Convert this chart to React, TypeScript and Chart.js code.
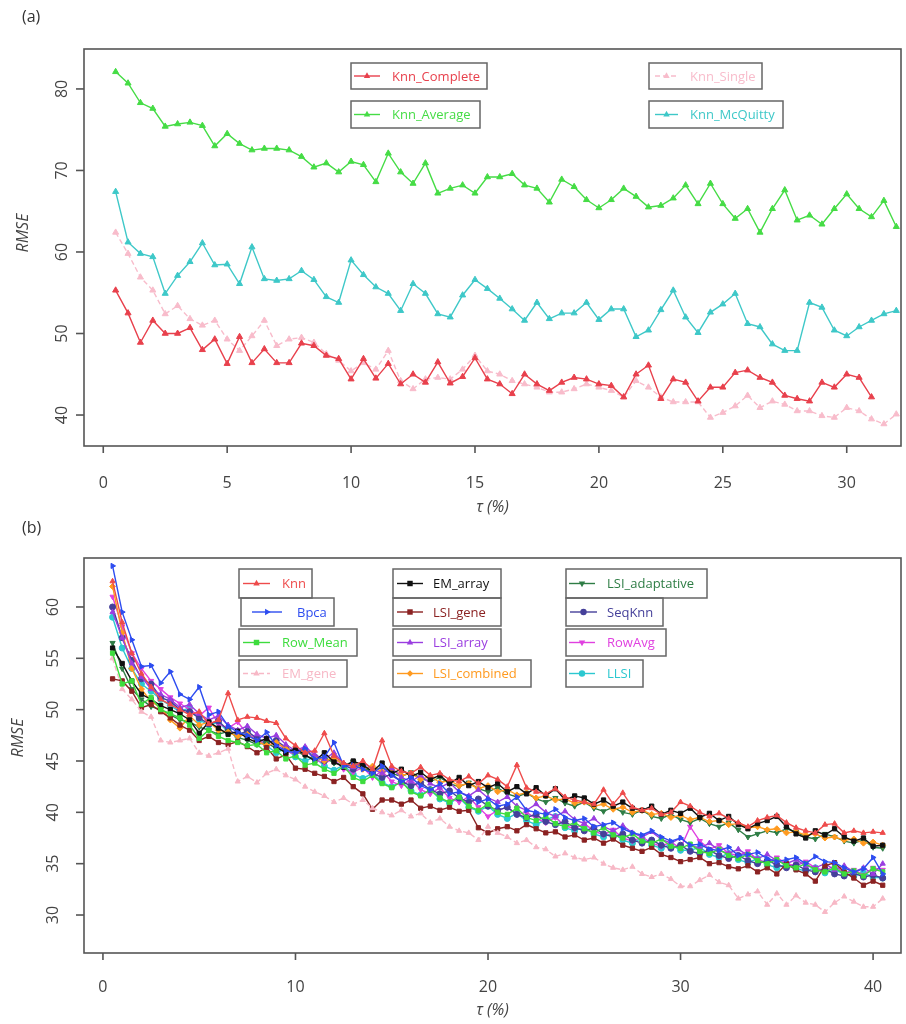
import React, { useEffect, useRef } from 'react';
import { Chart, registerables } from 'chart.js';
Chart.register(...registerables);

// ---------- Panel (a) data ----------
const tauA = [0.5, 1, 1.5, 2, 2.5, 3, 3.5, 4, 4.5, 5, 5.5, 6, 6.5, 7, 7.5, 8, 8.5, 9, 9.5, 10,
  10.5, 11, 11.5, 12, 12.5, 13, 13.5, 14, 14.5, 15, 15.5, 16, 16.5, 17, 17.5, 18, 18.5, 19, 19.5, 20,
  20.5, 21, 21.5, 22, 22.5, 23, 23.5, 24, 24.5, 25, 25.5, 26, 26.5, 27, 27.5, 28, 28.5, 29, 29.5, 30,
  30.5, 31, 31.5, 32];
const xTicksA = [0, 5, 10, 15, 20, 25, 30];
const yTicksA = [40, 50, 60, 70, 80];

const knnComplete = [55.3, 52.5, 48.9, 51.6, 50.0, 50.0, 50.7, 48.0, 49.3, 46.3,
  49.6, 46.4, 48.1, 46.4, 46.4, 48.8, 48.5, 47.3, 46.9, 44.4,
  46.9, 44.5, 46.3, 43.8, 45.0, 44.0, 46.5, 43.9, 44.7, 47.0,
  44.4, 43.8, 42.6, 45.0, 43.8, 43.0, 44.0, 44.6, 44.4, 43.8,
  43.6, 42.2, 45.0, 46.1, 42.0, 44.4, 44.0, 41.7, 43.4, 43.4,
  45.2, 45.5, 44.6, 44.0, 42.4, 42.0, 41.7, 44.0, 43.4, 45.0,
  44.6, 42.2];
const knnSingle = [62.4, 59.8, 56.9, 55.3, 52.4, 53.4, 51.8, 51.0, 51.6, 49.3,
  47.9, 49.7, 51.6, 48.5, 49.3, 49.5, 48.9, 47.5, 46.7, 45.4,
  46.4, 45.6, 47.9, 44.2, 43.2, 44.4, 44.6, 44.4, 45.6, 47.3,
  45.4, 45.0, 44.2, 43.8, 43.4, 42.8, 42.8, 43.2, 43.8, 43.4,
  43.0, 42.2, 44.2, 43.4, 42.2, 41.6, 41.6, 41.6, 39.7, 40.3,
  41.1, 42.4, 40.9, 41.7, 41.3, 40.5, 40.5, 39.9, 39.7, 40.9,
  40.5, 39.5, 38.9, 40.1];
const knnAverage = [82.1, 80.7, 78.3, 77.6, 75.4, 75.7, 75.9, 75.5, 73.0, 74.5,
  73.3, 72.5, 72.7, 72.7, 72.5, 71.7, 70.4, 70.9, 69.8, 71.1,
  70.7, 68.6, 72.1, 69.8, 68.4, 70.9, 67.2, 67.8, 68.2, 67.2,
  69.2, 69.2, 69.6, 68.2, 67.8, 66.1, 68.9, 68.0, 66.4, 65.4,
  66.4, 67.8, 66.8, 65.5, 65.7, 66.6, 68.2, 65.9, 68.4, 65.9,
  64.1, 65.3, 62.4, 65.3, 67.6, 63.9, 64.5, 63.4, 65.3, 67.1,
  65.3, 64.3, 66.3, 63.1];
const knnMcQuitty = [67.4, 61.2, 59.8, 59.4, 54.9, 57.1, 58.8, 61.1, 58.4, 58.5,
  56.1, 60.6, 56.7, 56.5, 56.7, 57.7, 56.6, 54.5, 53.8, 59.0,
  57.2, 55.7, 54.9, 52.8, 56.1, 54.9, 52.4, 52.0, 54.7, 56.6,
  55.5, 54.3, 53.0, 51.6, 53.8, 51.8, 52.5, 52.5, 53.8, 51.7,
  53.0, 53.0, 49.6, 50.4, 52.9, 55.3, 52.0, 50.1, 52.6, 53.6,
  54.9, 51.2, 50.8, 48.7, 47.9, 47.9, 53.8, 53.2, 50.4, 49.7,
  50.8, 51.6, 52.4, 52.8];

// ---------- Panel (b) data ----------
const tauB = [0.5, 1, 1.5, 2, 2.5, 3, 3.5, 4, 4.5, 5, 5.5, 6, 6.5, 7, 7.5, 8, 8.5, 9, 9.5, 10,
  10.5, 11, 11.5, 12, 12.5, 13, 13.5, 14, 14.5, 15, 15.5, 16, 16.5, 17, 17.5, 18, 18.5, 19, 19.5, 20,
  20.5, 21, 21.5, 22, 22.5, 23, 23.5, 24, 24.5, 25, 25.5, 26, 26.5, 27, 27.5, 28, 28.5, 29, 29.5, 30,
  30.5, 31, 31.5, 32, 32.5, 33, 33.5, 34, 34.5, 35, 35.5, 36, 36.5, 37, 37.5, 38, 38.5, 39, 39.5, 40,
  40.5];
const xTicksB = [0, 10, 20, 30, 40];
const yTicksB = [30, 35, 40, 45, 50, 55, 60];

const knn = [62.5, 58.5, 55.5, 53.5, 52.2, 51.0, 50.5, 50.0, 49.5, 49.8,
  48.6, 49.0, 51.6, 49.0, 49.3, 49.2, 48.9, 48.7, 47.2, 46.5,
  45.8, 46.0, 47.7, 45.5, 44.8, 44.5, 45.0, 44.2, 47.0, 44.5,
  44.0, 43.8, 44.4, 43.6, 43.8, 43.2, 43.0, 43.5, 42.8, 43.6,
  43.2, 42.5, 44.6, 42.4, 42.0, 41.8, 42.3, 41.5, 41.2, 41.0,
  40.8, 42.2, 40.8, 41.9, 40.5, 40.2, 40.4, 39.8, 40.0, 41.0,
  40.6, 40.0, 39.6, 39.9, 39.4, 39.0, 38.6, 39.2, 39.5, 39.7,
  39.0, 38.5, 38.2, 38.0, 38.8, 38.9, 38.0, 38.2, 38.0, 38.1,
  38.0];
const bpca = [64.0, 59.5, 56.8, 54.2, 54.3, 52.6, 53.7, 51.5, 51.0, 52.2,
  49.5, 49.8, 48.4, 47.8, 47.5, 47.0, 47.8, 46.5, 46.0, 45.8,
  46.2, 45.2, 45.4, 46.8, 44.5, 44.6, 44.2, 43.8, 44.5, 43.6,
  43.0, 43.4, 42.6, 42.2, 42.8, 41.8, 42.0, 41.5, 41.0, 41.3,
  40.6, 40.8, 41.5, 40.2, 40.0, 39.8, 40.3, 39.5, 39.2, 39.4,
  38.6, 38.8, 39.0, 38.4, 38.0, 37.8, 38.2, 37.6, 37.2, 37.5,
  36.8, 36.9, 36.4, 36.3, 36.6, 35.8, 35.9, 36.1, 35.5, 35.2,
  35.4, 35.6, 35.0, 35.7, 35.2, 35.1, 34.6, 34.2, 34.5, 35.6,
  34.0];
const rowMean = [55.5, 52.5, 52.8, 50.5, 51.2, 50.0, 49.6, 49.2, 48.5, 47.2,
  48.0, 47.4, 47.0, 46.8, 46.5, 46.6, 45.8, 46.0, 45.2, 45.5,
  44.6, 44.8, 44.2, 43.8, 44.5, 43.4, 43.0, 43.6, 42.8, 42.4,
  43.0, 42.0, 41.6, 42.2, 41.4, 41.0, 41.5, 40.6, 40.2, 40.8,
  40.0, 39.8, 40.4, 39.5, 39.2, 39.6, 38.9, 38.6, 39.0, 38.4,
  38.0, 38.5, 37.8, 37.5, 37.9, 37.2, 37.0, 37.4, 36.7, 36.5,
  36.9, 36.2, 36.0, 36.4, 35.8, 35.5, 35.9, 35.3, 35.0, 35.4,
  34.8, 34.6, 35.0, 34.4, 34.2, 34.6, 34.0, 34.3, 33.8, 34.5,
  34.2];
const emGene = [55.0, 52.0, 51.0, 49.8, 49.3, 47.0, 46.8, 47.0, 47.2, 45.8,
  45.5, 45.8, 46.2, 43.0, 43.5, 42.9, 43.8, 44.2, 43.6, 43.2,
  42.5, 42.0, 41.6, 41.0, 41.4, 40.8, 41.2, 40.4, 40.0, 39.7,
  40.2, 39.6, 39.9, 39.0, 39.4, 38.6, 38.2, 38.0, 37.3, 38.6,
  38.0, 37.6, 37.0, 37.3, 36.6, 36.4, 35.7, 36.0, 35.6, 35.4,
  35.6, 35.0, 34.6, 34.4, 34.7, 34.0, 33.7, 34.0, 33.5, 32.8,
  32.8, 33.4, 33.9, 33.2, 32.9, 31.6, 32.0, 32.3, 31.0, 32.1,
  31.0, 31.9, 31.2, 31.0, 30.3, 31.2, 31.8, 31.3, 30.8, 30.8,
  31.6];
const emArray = [56.0, 54.5, 52.8, 51.5, 51.0, 50.4, 50.0, 49.6, 49.0, 47.7,
  48.8, 48.2, 47.6, 47.9, 47.2, 46.8, 47.2, 46.4, 45.8, 46.2,
  45.6, 45.0, 45.8, 44.9, 44.4, 45.0, 44.6, 44.0, 44.8, 43.8,
  44.2, 43.5, 43.9, 43.2, 43.6, 42.8, 43.4, 42.6, 43.0, 42.4,
  42.8, 42.0, 42.5, 41.8, 42.4, 41.6, 42.3, 41.2, 41.6, 41.4,
  40.8, 41.2, 40.6, 41.0, 40.4, 40.2, 40.6, 39.8, 40.2, 39.9,
  40.4, 39.5, 39.9, 39.2, 39.6, 38.8, 38.4, 38.9, 39.2, 39.6,
  38.6, 37.9, 37.5, 38.2, 37.8, 38.4, 37.6, 37.2, 37.5, 36.7,
  36.8];
const lsiGene = [53.0, 52.8, 51.8, 50.2, 50.5, 49.8, 49.2, 48.5, 48.0, 47.0,
  47.4, 46.8, 46.6, 46.9, 46.4, 45.8, 46.3, 45.2, 45.6, 44.3,
  44.2, 43.8, 43.5, 43.0, 43.4, 42.5, 41.8, 40.3, 41.2, 41.2,
  40.8, 41.2, 40.4, 40.6, 40.2, 40.5, 40.1, 40.2, 38.5, 38.0,
  38.4, 38.6, 38.2, 38.8, 38.4, 38.0, 38.1, 37.6, 37.8, 37.3,
  37.5, 37.0, 37.4, 36.8, 36.5, 36.2, 36.6, 35.9, 35.6, 35.2,
  35.4, 35.6, 35.0, 35.1, 34.7, 34.5, 34.8, 34.2, 34.6, 34.0,
  35.0, 34.4, 34.0, 33.3, 34.8, 35.1, 34.2, 33.6, 32.9, 33.3,
  32.9];
const lsiArray = [59.5, 57.0, 54.5, 53.2, 52.0, 51.5, 51.0, 50.2, 50.5, 49.6,
  49.0, 49.4, 48.5, 48.0, 48.4, 47.6, 47.2, 47.5, 46.6, 46.0,
  46.4, 45.6, 45.2, 45.8, 44.8, 44.4, 44.9, 44.2, 43.8, 44.3,
  43.4, 43.0, 43.6, 42.8, 42.4, 42.9, 42.0, 41.6, 42.2, 41.4,
  41.0, 41.5, 40.6, 40.2, 40.8, 40.0, 39.6, 40.1, 39.3, 38.9,
  39.4, 38.6, 38.2, 38.7, 38.0, 37.6, 38.1, 37.4, 37.0, 37.5,
  36.8, 36.5, 37.0, 36.3, 36.0, 36.4, 35.8, 35.5, 35.9, 35.3,
  35.0, 35.4, 34.8, 34.6, 35.0, 34.4, 34.8, 34.2, 34.6, 34.0,
  35.0];
const lsiCombined = [62.0, 57.5, 54.0, 52.0, 50.8, 50.2, 49.0, 48.2, 49.4, 48.5,
  48.8, 48.0, 47.8, 47.4, 47.6, 46.9, 46.5, 46.8, 46.2, 45.8,
  46.0, 45.4, 45.0, 45.3, 44.6, 44.8, 44.2, 44.5, 43.9, 44.2,
  43.6, 43.8, 43.2, 43.5, 42.9, 43.1, 42.6, 42.8, 42.3, 42.6,
  42.0, 42.2, 41.7, 41.9, 41.4, 41.6, 41.2, 41.3, 40.9, 41.0,
  40.6, 40.8, 40.3, 40.5, 40.0, 40.2, 39.8, 39.9, 39.5, 39.7,
  39.3, 39.5, 39.1, 39.2, 38.8, 38.9, 38.5, 38.6, 38.3, 38.4,
  38.0, 38.1, 37.8, 37.9, 37.5, 37.6, 37.3, 37.4, 37.0, 37.1,
  36.8];
const lsiAdaptative = [56.5, 54.0, 52.0, 51.0, 50.3, 50.0, 49.5, 49.0, 48.8, 48.3,
  48.0, 47.6, 47.9, 47.3, 47.0, 46.6, 46.8, 46.2, 45.9, 46.0,
  45.5, 45.2, 45.4, 44.8, 44.6, 44.9, 44.3, 44.0, 44.4, 43.8,
  43.5, 43.9, 43.3, 43.0, 43.4, 42.8, 42.5, 42.9, 42.3, 42.0,
  42.4, 41.8, 41.5, 41.9, 41.3, 41.0, 41.4, 40.9, 40.6, 41.0,
  40.4, 40.1, 40.5, 40.0, 39.8, 40.2, 39.6, 39.4, 39.8, 39.3,
  39.0, 39.4, 38.9, 38.6, 39.0, 38.3, 37.6, 37.9, 38.2, 38.0,
  38.4, 38.1, 37.6, 37.4, 37.9, 37.6, 37.2, 37.0, 37.3, 36.6,
  36.5];
const seqKnn = [60.0, 57.0, 54.8, 53.0, 52.5, 51.2, 50.8, 50.0, 49.8, 49.2,
  48.6, 48.9, 48.0, 47.6, 47.9, 47.2, 46.8, 47.0, 46.3, 45.9,
  46.1, 45.4, 45.0, 45.3, 44.6, 44.2, 44.5, 43.8, 43.4, 43.7,
  43.0, 42.6, 42.9, 42.2, 41.8, 42.1, 41.4, 41.0, 41.3, 40.6,
  40.2, 40.5, 39.8, 39.5, 39.8, 39.1, 38.8, 39.1, 38.5, 38.2,
  38.5, 37.9, 37.6, 37.9, 37.3, 37.0, 37.3, 36.8, 36.5, 36.8,
  36.2, 36.0, 36.3, 35.8, 35.5, 35.8, 35.3, 35.0, 35.3, 34.9,
  34.6, 34.9, 34.4, 34.2, 34.5, 34.0, 33.8, 34.1, 33.7, 33.9,
  33.6];
const rowAvg = [61.0, 58.1, 55.5, 54.0, 52.8, 52.0, 51.2, 50.6, 50.0, 49.4,
  50.2, 48.6, 48.2, 48.8, 47.6, 47.2, 46.4, 46.9, 46.0, 45.6,
  46.2, 45.1, 44.8, 45.2, 44.2, 43.9, 44.4, 43.4, 44.0, 43.0,
  42.6, 43.2, 42.2, 41.8, 42.4, 41.4, 41.0, 41.5, 40.5, 39.6,
  40.2, 40.5, 39.8, 40.0, 39.4, 39.0, 39.5, 38.7, 38.4, 38.9,
  38.2, 37.8, 38.3, 37.5, 37.2, 37.6, 37.0, 36.7, 37.1, 36.5,
  38.6, 37.2, 36.4, 36.8, 36.0, 35.8, 36.2, 35.4, 35.1, 35.6,
  35.0, 34.8, 35.2, 34.6, 34.3, 34.8, 34.1, 34.4, 33.9, 34.6,
  34.4];
const llsi = [59.0, 56.0, 54.0, 52.5, 51.8, 51.0, 50.4, 49.8, 50.2, 49.0,
  48.5, 48.8, 47.8, 47.4, 47.8, 46.9, 46.5, 45.8, 46.2, 45.4,
  45.0, 45.4, 44.5, 44.1, 44.6, 43.7, 43.3, 43.8, 42.9, 42.5,
  43.0, 42.1, 41.7, 42.2, 41.3, 40.9, 41.4, 40.5, 40.1, 40.6,
  39.8, 39.4, 39.9, 39.2, 38.8, 39.3, 39.6, 38.5, 38.2, 38.6,
  37.9, 37.6, 38.0, 37.3, 37.0, 37.5, 36.8, 36.5, 36.9, 36.3,
  36.3, 36.6, 35.9, 35.6, 36.0, 35.4, 35.1, 35.5, 34.9, 34.6,
  35.0, 34.5, 34.3, 34.6, 34.1, 34.4, 34.0, 33.8, 34.1, 33.7,
  33.6];

// ---------- types & styles ----------
type Series = { label: string; values: number[]; color: string; style: string; rot?: number; dash?: number[] };
type LegendBox = { idx: number; x: number; y: number; w: number; h: number; lx0: number; lx1: number; tx: number };
type PanelSpec = {
  top: number; height: number; padding: { left: number; top: number; right: number; bottom: number };
  xs: number[]; series: Series[]; xMin: number; xMax: number; yMin: number; yMax: number;
  xTicks: number[]; yTicks: number[]; pointRadius: number;
  xLabelGap: number; xTitleGap: number; yLabelX: number; yTitleX: number; yTitleY: number;
  legend: LegendBox[];
};

const FONT = '"Open Sans", "Liberation Sans", sans-serif';

function drawMarker(ctx: CanvasRenderingContext2D, style: string, rot: number, x: number, y: number, r: number, color: string) {
  ctx.save();
  ctx.translate(x, y);
  ctx.rotate((rot * Math.PI) / 180);
  ctx.fillStyle = color;
  ctx.beginPath();
  if (style === 'circle') ctx.arc(0, 0, r, 0, Math.PI * 2);
  else if (style === 'rect') ctx.rect(-r * 0.85, -r * 0.85, r * 1.7, r * 1.7);
  else if (style === 'rectRot') { ctx.moveTo(0, -r); ctx.lineTo(r, 0); ctx.lineTo(0, r); ctx.lineTo(-r, 0); ctx.closePath(); }
  else { ctx.moveTo(0, -r * 1.15); ctx.lineTo(r, r * 0.6); ctx.lineTo(-r, r * 0.6); ctx.closePath(); }
  ctx.fill();
  ctx.restore();
}

function buildPlugin(p: PanelSpec) {
  return {
    id: 'rstyle',
    afterDraw(chart: any) {
      const ctx: CanvasRenderingContext2D = chart.ctx;
      const a = chart.chartArea;
      const xs = chart.scales.x;
      const ys = chart.scales.y;
      ctx.save();
      ctx.setLineDash([]);
      ctx.strokeStyle = '#555';
      ctx.lineWidth = 1.6;
      ctx.strokeRect(a.left, a.top, a.right - a.left, a.bottom - a.top);
      ctx.fillStyle = '#444';
      ctx.font = `16px ${FONT}`;
      ctx.textAlign = 'center';
      ctx.textBaseline = 'middle';
      for (const v of p.xTicks) {
        const px = xs.getPixelForValue(v);
        ctx.beginPath(); ctx.moveTo(px, a.bottom); ctx.lineTo(px, a.bottom + 7); ctx.stroke();
        ctx.fillText(String(v), px, a.bottom + p.xLabelGap);
      }
      for (const v of p.yTicks) {
        const py = ys.getPixelForValue(v);
        ctx.beginPath(); ctx.moveTo(a.left - 8, py); ctx.lineTo(a.left, py); ctx.stroke();
        ctx.save(); ctx.translate(p.yLabelX, py); ctx.rotate(-Math.PI / 2); ctx.fillText(String(v), 0, 0); ctx.restore();
      }
      ctx.font = `italic 16px ${FONT}`;
      ctx.fillText('τ (%)', (a.left + a.right) / 2, a.bottom + p.xTitleGap);
      ctx.save(); ctx.translate(p.yTitleX, p.yTitleY); ctx.rotate(-Math.PI / 2); ctx.fillText('RMSE', 0, 0); ctx.restore();

      for (const lg of p.legend) {
        const s = p.series[lg.idx];
        const y0 = lg.y - p.top;
        ctx.setLineDash([]);
        ctx.strokeStyle = '#666';
        ctx.lineWidth = 1.5;
        ctx.strokeRect(lg.x, y0, lg.w, lg.h);
        const cy = y0 + lg.h / 2;
        ctx.strokeStyle = s.color;
        ctx.lineWidth = 1.4;
        ctx.setLineDash(s.dash || []);
        ctx.beginPath(); ctx.moveTo(lg.x + lg.lx0, cy); ctx.lineTo(lg.x + lg.lx1, cy); ctx.stroke();
        ctx.setLineDash([]);
        drawMarker(ctx, s.style, s.rot || 0, lg.x + (lg.lx0 + lg.lx1) / 2, cy, 3.2, s.color);
        ctx.fillStyle = s.color;
        ctx.font = `13px ${FONT}`;
        ctx.textAlign = 'left';
        ctx.fillText(s.label, lg.x + lg.tx, cy + 1);
      }
      ctx.restore();
    },
  };
}

const seriesA: Series[] = [
  { label: 'Knn_Complete', values: knnComplete, color: '#e8404c', style: 'triangle' },
  { label: 'Knn_Single', values: knnSingle, color: '#f8bccb', style: 'triangle', dash: [5, 3] },
  { label: 'Knn_Average', values: knnAverage, color: '#45dc45', style: 'triangle' },
  { label: 'Knn_McQuitty', values: knnMcQuitty, color: '#3ec8c8', style: 'triangle' },
];

const seriesB: Series[] = [
  { label: 'Knn', values: knn, color: '#ee4b4b', style: 'triangle' },
  { label: 'Bpca', values: bpca, color: '#2d4cf0', style: 'triangle', rot: 90 },
  { label: 'Row_Mean', values: rowMean, color: '#3ddc3d', style: 'rect' },
  { label: 'EM_gene', values: emGene, color: '#f7b8c6', style: 'triangle', dash: [5, 3] },
  { label: 'EM_array', values: emArray, color: '#111111', style: 'rect' },
  { label: 'LSI_gene', values: lsiGene, color: '#8b2222', style: 'rect' },
  { label: 'LSI_array', values: lsiArray, color: '#9a3de0', style: 'triangle' },
  { label: 'LSI_combined', values: lsiCombined, color: '#ff9a1f', style: 'rectRot' },
  { label: 'LSI_adaptative', values: lsiAdaptative, color: '#2e7d45', style: 'triangle', rot: 180 },
  { label: 'SeqKnn', values: seqKnn, color: '#45409a', style: 'circle' },
  { label: 'RowAvg', values: rowAvg, color: '#e040e0', style: 'triangle', rot: 180 },
  { label: 'LLSI', values: llsi, color: '#2cc8d0', style: 'circle' },
];

const specA: PanelSpec = {
  top: 0, height: 515, padding: { left: 84, top: 49, right: 3, bottom: 69 },
  xs: tauA, series: seriesA, xMin: -0.777, xMax: 32.19, yMin: 36.2, yMax: 84.9,
  xTicks: xTicksA, yTicks: yTicksA, pointRadius: 3.5,
  xLabelGap: 37, xTitleGap: 61, yLabelX: 62, yTitleX: 23, yTitleY: 233,
  legend: [
    { idx: 0, x: 351, y: 63, w: 136, h: 26, lx0: 3, lx1: 29, tx: 41 },
    { idx: 2, x: 351, y: 101, w: 129, h: 27, lx0: 3, lx1: 29, tx: 41 },
    { idx: 1, x: 649, y: 63, w: 113, h: 26, lx0: 6, lx1: 29, tx: 41 },
    { idx: 3, x: 649, y: 101, w: 134, h: 27, lx0: 6, lx1: 29, tx: 41 },
  ],
};

const specB: PanelSpec = {
  top: 515, height: 509, padding: { left: 84, top: 43, right: 3, bottom: 71 },
  xs: tauB, series: seriesB, xMin: -0.984, xMax: 41.45, yMin: 26.3, yMax: 64.77,
  xTicks: xTicksB, yTicks: yTicksB, pointRadius: 3,
  xLabelGap: 34, xTitleGap: 57, yLabelX: 53, yTitleX: 18, yTitleY: 223,
  legend: [
    { idx: 0, x: 239, y: 569, w: 73, h: 29, lx0: 4, lx1: 31, tx: 43 },
    { idx: 1, x: 241, y: 598, w: 93, h: 28, lx0: 11, lx1: 41, tx: 56 },
    { idx: 2, x: 239, y: 629, w: 118, h: 27, lx0: 4, lx1: 31, tx: 43 },
    { idx: 3, x: 239, y: 660, w: 108, h: 27, lx0: 4, lx1: 31, tx: 43 },
    { idx: 4, x: 393, y: 569, w: 108, h: 29, lx0: 4, lx1: 30, tx: 40 },
    { idx: 5, x: 393, y: 598, w: 108, h: 28, lx0: 4, lx1: 30, tx: 40 },
    { idx: 6, x: 393, y: 629, w: 108, h: 27, lx0: 4, lx1: 30, tx: 40 },
    { idx: 7, x: 393, y: 660, w: 138, h: 27, lx0: 4, lx1: 30, tx: 40 },
    { idx: 8, x: 566, y: 569, w: 141, h: 29, lx0: 3, lx1: 29, tx: 41 },
    { idx: 9, x: 566, y: 598, w: 97, h: 28, lx0: 4, lx1: 31, tx: 41 },
    { idx: 10, x: 566, y: 629, w: 100, h: 27, lx0: 3, lx1: 29, tx: 41 },
    { idx: 11, x: 566, y: 660, w: 77, h: 27, lx0: 3, lx1: 29, tx: 41 },
  ],
};

function PanelChart({ spec }: { spec: PanelSpec }) {
  const ref = useRef<HTMLCanvasElement | null>(null);
  useEffect(() => {
    if (!ref.current) return;
    const chart = new Chart(ref.current, {
      type: 'line',
      data: {
        datasets: spec.series.map((s) => ({
          label: s.label,
          data: s.values.map((v, i) => ({ x: spec.xs[i], y: v })),
          borderColor: s.color,
          backgroundColor: s.color,
          borderWidth: 1.4,
          borderDash: s.dash || [],
          pointStyle: s.style as any,
          pointRotation: s.rot || 0,
          pointRadius: spec.pointRadius,
          pointBorderWidth: 1,
          pointBackgroundColor: s.color,
          pointBorderColor: s.color,
          tension: 0,
          fill: false,
        })),
      },
      options: {
        responsive: false,
        animation: false,
        events: [],
        layout: { padding: spec.padding },
        plugins: { legend: { display: false }, tooltip: { enabled: false } },
        scales: {
          x: { type: 'linear', min: spec.xMin, max: spec.xMax, display: false },
          y: { type: 'linear', min: spec.yMin, max: spec.yMax, display: false },
        },
      } as any,
      plugins: [buildPlugin(spec) as any],
    });
    return () => chart.destroy();
  }, [spec]);
  return (
    <canvas
      ref={ref}
      width={906}
      height={spec.height}
      style={{ position: 'absolute', left: 0, top: spec.top, width: 906, height: spec.height }}
    />
  );
}

export default function App() {
  const labelStyle: React.CSSProperties = {
    position: 'absolute', left: 22, fontFamily: FONT, fontSize: 16, lineHeight: '20px', color: '#333',
  };
  return (
    <div style={{ position: 'absolute', left: 0, top: 0, width: 906, height: 1024, background: '#fff', overflow: 'hidden' }}>
      <PanelChart spec={specA} />
      <PanelChart spec={specB} />
      <div style={{ ...labelStyle, top: 6 }}>(a)</div>
      <div style={{ ...labelStyle, top: 517 }}>(b)</div>
    </div>
  );
}
